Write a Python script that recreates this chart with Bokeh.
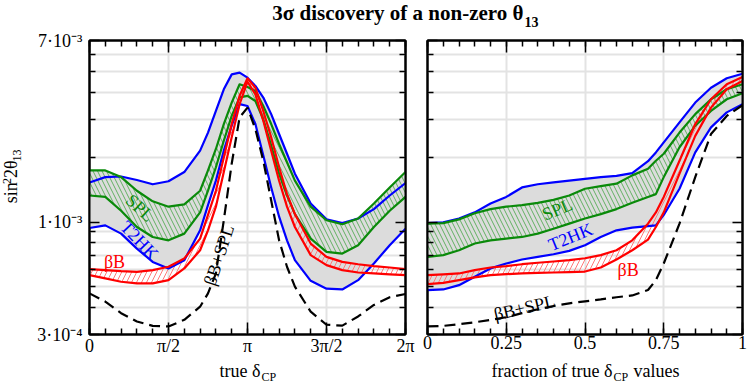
import numpy as np
from bokeh.plotting import figure
from bokeh.layouts import column, row
from bokeh.models import (Range1d, FixedTicker, CustomJSTickFormatter,
                          LinearAxis, LogAxis, Label)
from bokeh.embed import file_html
from bokeh.resources import INLINE

# ---------------- data ----------------
title_main = "3σ discovery of a non-zero θ"
title_sub = "13"

# left panel: true delta_CP (in units of pi); limits on sin^2 2theta13 in units of 1e-3
delta_over_pi = [0, .1, .2, .3, .4, .5, .6, .7, .75, .8, .85, .9, .95, 1.0, 1.05,
                 1.1, 1.15, 1.2, 1.25, 1.3, 1.4, 1.5, 1.6, 1.7, 1.8, 1.9, 2.0]
t2hk_hi_l = [1.53, 1.62, 1.63, 1.57, 1.50, 1.55, 1.71, 2.15, 2.61, 3.29, 4.15, 4.87, 4.96, 4.70,
             4.30, 3.80, 3.18, 2.57, 2.08, 1.68, 1.22, 1.03, 0.99, 1.04, 1.15, 1.33, 1.52]
t2hk_lo_l = [0.939, 0.966, 0.884, 0.753, 0.653, 0.609, 0.665, 0.916, 1.20, 1.56, 2.15, 2.81, 3.54, 3.47,
             2.86, 2.04, 1.45, 1.06, 0.823, 0.665, 0.533, 0.490, 0.486, 0.537, 0.642, 0.781, 0.932]
spl_hi_l = [1.74, 1.74, 1.62, 1.40, 1.25, 1.18, 1.21, 1.40, 1.74, 2.19, 2.86, 3.60, 4.38, 4.25,
            4.08, 3.47, 2.86, 2.31, 1.90, 1.56, 1.18, 1.02, 0.977, 1.04, 1.22, 1.45, 1.71]
spl_lo_l = [1.33, 1.31, 1.13, 0.949, 0.853, 0.823, 0.884, 1.11, 1.40, 1.80, 2.39, 3.12, 3.80, 3.87,
            3.66, 3.01, 2.27, 1.68, 1.33, 1.09, 0.838, 0.727, 0.714, 0.781, 0.949, 1.13, 1.31]
bb_hi_l = [0.604, 0.598, 0.591, 0.587, 0.598, 0.620, 0.677, 0.838, 1.08, 1.40, 2.00, 2.86, 3.87, 4.67,
           4.22, 3.29, 2.48, 1.80, 1.35, 1.09, 0.795, 0.689, 0.653, 0.637, 0.624, 0.615, 0.604]
bb_lo_l = [0.567, 0.547, 0.528, 0.519, 0.519, 0.537, 0.609, 0.740, 0.916, 1.18, 1.71, 2.48, 3.54, 4.50,
           3.93, 2.96, 2.15, 1.56, 1.18, 0.949, 0.702, 0.631, 0.598, 0.583, 0.577, 0.571, 0.567]
bbspl_l = [0.466, 0.427, 0.377, 0.345, 0.329, 0.327, 0.351, 0.404, 0.466, 0.577, 1.02, 1.87, 3.07, 3.41,
           2.71, 1.93, 1.26, 0.823, 0.620, 0.501, 0.383, 0.333, 0.330, 0.364, 0.412, 0.447, 0.463]

# right panel: fraction of true delta_CP values
fraction = [0, .05, .1, .15, .2, .25, .3, .35, .4, .45, .5, .55, .6, .65, .7, .725, .75, .8, .85, .9, .95, 1.0]
t2hk_hi_r = [0.990, 0.998, 1.04, 1.11, 1.22, 1.31, 1.45, 1.50, 1.53, 1.56, 1.59, 1.62, 1.64, 1.69, 1.92,
             2.11, 2.35, 2.91, 3.60, 4.22, 4.67, 4.90]
t2hk_lo_r = [0.483, 0.486, 0.509, 0.557, 0.609, 0.642, 0.670, 0.689, 0.709, 0.735, 0.781, 0.853, 0.916,
             0.942, 0.959, 0.966, 1.08, 1.43, 2.11, 2.76, 3.24, 3.54]
spl_hi_r = [0.984, 0.990, 1.03, 1.10, 1.15, 1.18, 1.20, 1.23, 1.27, 1.33, 1.43, 1.47, 1.51, 1.65, 1.77,
            1.93, 2.08, 2.61, 3.18, 3.73, 4.15, 4.38]
spl_lo_r = [0.689, 0.702, 0.740, 0.795, 0.823, 0.838, 0.853, 0.884, 0.932, 0.984, 1.04, 1.09, 1.15, 1.23,
            1.31, 1.35, 1.62, 2.23, 2.81, 3.29, 3.73, 3.98]
bb_hi_r = [0.567, 0.571, 0.577, 0.598, 0.615, 0.624, 0.637, 0.647, 0.656, 0.665, 0.679, 0.702, 0.740,
           0.823, 0.984, 1.11, 1.31, 1.93, 2.86, 3.73, 4.38, 4.73]
bb_lo_r = [0.515, 0.522, 0.537, 0.553, 0.567, 0.573, 0.577, 0.581, 0.583, 0.585, 0.589, 0.615, 0.670,
           0.740, 0.829, 0.949, 1.11, 1.68, 2.52, 3.41, 4.15, 4.54]
bbspl_r = [0.327, 0.329, 0.335, 0.342, 0.351, 0.361, 0.377, 0.393, 0.407, 0.419, 0.428, 0.437, 0.447,
           0.456, 0.483, 0.537, 0.642, 0.984, 1.62, 2.57, 3.12, 3.50]

UNIT = 1e-3

# axes / ticks
y_major = [3e-4, 1e-3, 7e-3]
y_major_labels = ["3·10⁻⁴", "1·10⁻³", "7·10⁻³"]
y_minor = [4e-4, 5e-4, 6e-4, 7e-4, 8e-4, 9e-4, 2e-3, 3e-3, 4e-3, 5e-3, 6e-3]
xl_major_over_pi = [0, 0.5, 1, 1.5, 2]
xl_major_labels = ["0", "π/2", "π", "3π/2", "2π"]
xr_major = [0, 0.25, 0.5, 0.75, 1]
xr_major_labels = ["0", "0.25", "0.5", "0.75", "1"]

# ---------------- style / layout ----------------
FONT = "Liberation Serif"
BLUE = "#0000ff"
GREEN = "#0a8a0a"
RED = "#ff0000"
GRAY = "#dcdcdc"
GREEN_HATCH = "#62b062"
RED_HATCH = "#ff7a7a"
GRID = "#e3e3e3"
LW = 2.2
T_H = 30           # title strip height
X_H = 26           # x-title strip height
P_H = 384 - T_H - X_H   # panels' canvas height
FRAME_T, FRAME_B = 10, 22
Y_W = 24           # width of the y-title strip


def label_fmt(vals, labs, log=False):
    cmp = "Math.abs(Math.log(tick / vals[i])) < 1e-6" if log else "Math.abs(tick - vals[i]) < 1e-9"
    return CustomJSTickFormatter(args=dict(vals=vals, labs=labs), code=f"""
for (let i = 0; i < vals.length; i++) {{ if ({cmp}) return labs[i]; }}
return "";""")


def blank_fmt():
    return CustomJSTickFormatter(code='return "";')


def style_axis(ax, show, standoff, major_in):
    ax.axis_line_color = "black"
    ax.axis_line_width = 2
    ax.major_tick_in = major_in
    ax.major_tick_out = 0
    ax.minor_tick_in = 6
    ax.minor_tick_out = 0
    ax.major_tick_line_color = "black"
    ax.minor_tick_line_color = "black"
    ax.major_tick_line_width = 1.5
    ax.minor_tick_line_width = 1.5
    ax.major_label_text_font = FONT
    ax.major_label_text_color = "black"
    ax.major_label_text_font_size = "18px" if show else "0px"
    ax.major_label_standoff = standoff if show else 0
    ax.axis_label = None


def make_panel(x, curves, x_range, x_major, x_minor, x_fmt, x_grid, width, bl, br, show_y):
    p = figure(width=width, height=P_H, x_range=x_range, y_range=Range1d(3e-4, 7e-3),
               y_axis_type="log", toolbar_location=None, output_backend="svg",
               min_border_left=bl, min_border_right=br, min_border_top=FRAME_T,
               min_border_bottom=FRAME_B)
    p.title = None
    p.outline_line_color = "black"
    p.outline_line_width = 2
    xt = FixedTicker(ticks=x_major, minor_ticks=x_minor)
    yt = FixedTicker(ticks=y_major, minor_ticks=y_minor)
    p.xaxis.ticker = xt
    p.xaxis.formatter = x_fmt
    p.yaxis.ticker = yt
    p.yaxis.formatter = label_fmt(y_major, y_major_labels, log=True) if show_y else blank_fmt()
    for ax in p.xaxis:
        style_axis(ax, True, 1, 12)
    for ax in p.yaxis:
        style_axis(ax, show_y, 7, 10)
    top = LinearAxis(ticker=xt, formatter=blank_fmt())
    style_axis(top, False, 0, 12)
    p.add_layout(top, "above")
    right = LogAxis(ticker=yt, formatter=blank_fmt())
    style_axis(right, False, 0, 10)
    p.add_layout(right, "right")

    p.xgrid.ticker = FixedTicker(ticks=x_grid)
    p.ygrid.ticker = FixedTicker(ticks=y_major + y_minor)
    p.grid.grid_line_color = GRID
    p.grid.grid_line_width = 2

    t_hi, t_lo, s_hi, s_lo, b_hi, b_lo, k = [np.array(c) * UNIT for c in curves]
    p.varea(x=x, y1=t_lo, y2=t_hi, fill_color=GRAY)
    p.varea(x=x, y1=s_lo, y2=s_hi, fill_color=GRAY, hatch_pattern="\\",
            hatch_color=GREEN_HATCH, hatch_scale=9, hatch_weight=1)
    p.varea(x=x, y1=b_lo, y2=b_hi, fill_alpha=0, hatch_pattern="/",
            hatch_color=RED_HATCH, hatch_scale=10, hatch_weight=1)
    for yy in (t_hi, t_lo):
        p.line(x, yy, line_color=BLUE, line_width=LW, line_join="round")
    for yy in (s_hi, s_lo):
        p.line(x, yy, line_color=GREEN, line_width=LW, line_join="round")
    for yy in (b_hi, b_lo):
        p.line(x, yy, line_color=RED, line_width=LW, line_join="round")
    p.line(x, k, line_color="black", line_width=LW, line_dash="11 6")
    return p


def text_fig(width, height):
    """A blank canvas whose data units are its own pixels (y downwards)."""
    f = figure(width=width, height=height, x_range=Range1d(0, width), y_range=Range1d(height, 0),
               toolbar_location=None, output_backend="svg", min_border=0,
               x_axis_location=None, y_axis_location=None)
    f.title = None
    f.grid.visible = False
    f.outline_line_color = None
    return f


def tlabel(p, x, y, text, color, angle_deg=0, size="18px", align="center",
           baseline="middle", style="normal"):
    p.add_layout(Label(x=x, y=y, text=text, text_color=color,
                       angle=np.deg2rad(angle_deg), text_align=align, text_baseline=baseline,
                       text_font=FONT, text_font_size=size, text_font_style=style))


# ---------------- left panel ----------------
xl = np.array(delta_over_pi) * np.pi
p1 = make_panel(
    xl, [t2hk_hi_l, t2hk_lo_l, spl_hi_l, spl_lo_l, bb_hi_l, bb_lo_l, bbspl_l],
    Range1d(0, 2 * np.pi),
    list(np.array(xl_major_over_pi) * np.pi), list(np.arange(0, 2.0001, 0.1) * np.pi),
    label_fmt(list(np.array(xl_major_over_pi) * np.pi), xl_major_labels),
    [0.5 * np.pi, np.pi, 1.5 * np.pi], 416 - Y_W, 89 - Y_W, 11, True)

tlabel(p1, 1.004, 1.164e-3, "SPL", GREEN, -42)
tlabel(p1, 0.994, 0.823e-3, "T2HK", BLUE, -46)
tlabel(p1, 0.497, 0.651e-3, "βB", RED, 0)
tlabel(p1, 2.575, 0.702e-3, "βB+SPL", "black", 72)

# ---------------- right panel ----------------
xr = np.array(fraction)
p2 = make_panel(
    xr, [t2hk_hi_r, t2hk_lo_r, spl_hi_r, spl_lo_r, bb_hi_r, bb_lo_r, bbspl_r],
    Range1d(0, 1), xr_major, list(np.arange(0, 1.0001, 0.05)),
    label_fmt(xr_major, xr_major_labels), [0.25, 0.5, 0.75], 331, 11, 5, False)

tlabel(p2, 0.412, 1.147e-3, "SPL", GREEN, 22)
tlabel(p2, 0.454, 0.853e-3, "T2HK", BLUE, 22)
tlabel(p2, 0.637, 0.601e-3, "βB", RED, 0)
tlabel(p2, 0.308, 0.400e-3, "βB+SPL", "black", 13)

# ---------------- title, y title, x titles (pixel canvases, 'middle' baselines) ----------------
tf = text_fig(747, T_H)
tlabel(tf, 523, 12, title_main, "black", size="21px", align="right", style="bold")
tlabel(tf, 524, 21.5, title_sub, "black", size="14px", align="left", style="bold")

yf = text_fig(Y_W, P_H)
# sin^2 2theta_13, read bottom-to-top (strip y = page y - T_H)
tlabel(yf, 10, 181.5, "sin", "black", 90, size="18px", align="left")
tlabel(yf, 6.5, 160, "2", "black", 90, size="12px", align="left")
tlabel(yf, 10, 153.5, "2θ", "black", 90, size="18px", align="left")
tlabel(yf, 16, 135, "13", "black", 90, size="12px", align="left")

xf = text_fig(747, X_H)
tlabel(xf, 219, 12, "true δ", "black", align="left")
tlabel(xf, 261, 18, "CP", "black", size="12px", align="left")
tlabel(xf, 491, 12, "fraction of true δ", "black", align="left")
tlabel(xf, 613, 18, "CP", "black", size="12px", align="left")
tlabel(xf, 633, 12, "values", "black", align="left")

layout = column(tf, row(yf, p1, p2), xf)
open("out.html", "w").write(file_html(layout, INLINE))
